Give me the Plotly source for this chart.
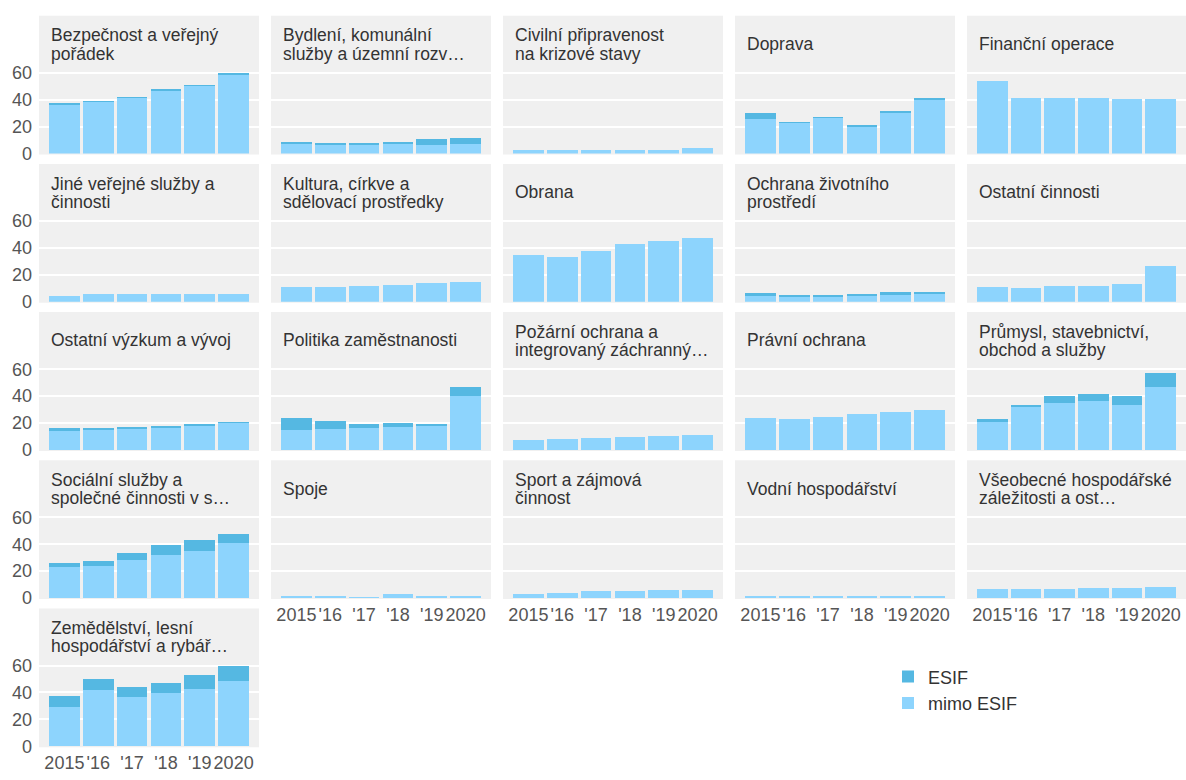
import plotly.graph_objects as go

years = ["2015", "2016", "2017", "2018", "2019", "2020"]
year_labels = ["2015", "'16", "'17", "'18", "'19", "2020"]

categories = [
    "Bezpečnost a veřejný<br>pořádek",
    "Bydlení, komunální<br>služby a územní rozv…",
    "Civilní připravenost<br>na krizové stavy",
    "Doprava",
    "Finanční operace",
    "Jiné veřejné služby a<br>činnosti",
    "Kultura, církve a<br>sdělovací prostředky",
    "Obrana",
    "Ochrana životního<br>prostředí",
    "Ostatní činnosti",
    "Ostatní výzkum a vývoj",
    "Politika zaměstnanosti",
    "Požární ochrana a<br>integrovaný záchranný…",
    "Právní ochrana",
    "Průmysl, stavebnictví,<br>obchod a služby",
    "Sociální služby a<br>společné činnosti v s…",
    "Spoje",
    "Sport a zájmová<br>činnost",
    "Vodní hospodářství",
    "Všeobecné hospodářské<br>záležitosti a ost…",
    "Zemědělství, lesní<br>hospodářství a rybář…",
]

mimo_esif = [
    [36.8, 38.8, 41.8, 47.2, 50.5, 59.2],
    [7.0, 6.3, 7.1, 7.3, 6.6, 6.9],
    [2.6, 2.8, 2.8, 2.8, 2.8, 4.2],
    [25.6, 22.9, 26.6, 20.5, 30.5, 40.5],
    [54.0, 41.7, 41.2, 41.7, 40.5, 40.7],
    [4.2, 5.5, 5.4, 5.4, 6.0, 6.0],
    [11.0, 11.2, 11.7, 12.7, 13.9, 14.6],
    [34.7, 33.0, 37.9, 42.7, 45.4, 47.1],
    [4.0, 4.2, 4.2, 4.5, 5.7, 6.0],
    [10.7, 10.4, 11.4, 11.7, 12.9, 26.9],
    [13.8, 15.4, 16.0, 16.5, 17.5, 20.0],
    [14.6, 15.3, 16.5, 17.0, 18.0, 40.2],
    [7.3, 7.8, 8.5, 9.8, 10.0, 11.0],
    [23.7, 22.9, 24.6, 26.6, 28.5, 30.0],
    [20.5, 32.5, 35.1, 36.6, 33.7, 46.8],
    [22.8, 23.7, 28.0, 32.3, 34.8, 40.9],
    [0.7, 0.7, 0.5, 2.7, 1.2, 1.0],
    [3.2, 3.4, 4.9, 5.4, 6.1, 6.1],
    [1.5, 1.0, 1.0, 1.0, 1.0, 1.0],
    [6.6, 6.9, 6.9, 7.4, 7.8, 8.3],
    [28.9, 41.5, 36.4, 39.3, 42.2, 48.8],
]

esif = [
    [0.7, 0.2, 0.2, 0.3, 0.5, 0.3],
    [2.0, 1.9, 0.7, 1.7, 3.9, 4.6],
    [0.0, 0.0, 0.0, 0.0, 0.0, 0.0],
    [4.9, 0.1, 0.2, 0.2, 0.6, 0.2],
    [0.0, 0.0, 0.0, 0.0, 0.0, 0.0],
    [0.0, 0.0, 0.0, 0.0, 0.0, 0.0],
    [0.0, 0.0, 0.0, 0.0, 0.0, 0.0],
    [0.0, 0.0, 0.0, 0.0, 0.0, 0.0],
    [2.5, 0.3, 0.3, 1.0, 1.3, 1.0],
    [0.0, 0.0, 0.0, 0.0, 0.0, 0.0],
    [2.7, 0.2, 0.3, 0.5, 1.5, 0.5],
    [9.1, 5.9, 3.0, 3.0, 1.2, 6.2],
    [0.0, 0.0, 0.0, 0.0, 0.0, 0.0],
    [0.0, 0.0, 0.0, 0.0, 0.0, 0.0],
    [2.4, 0.2, 4.9, 4.9, 6.3, 10.5],
    [3.2, 4.2, 5.6, 6.9, 8.1, 6.9],
    [0.0, 0.0, 0.0, 0.0, 0.0, 0.0],
    [0.0, 0.0, 0.0, 0.0, 0.0, 0.0],
    [0.0, 0.0, 0.0, 0.0, 0.0, 0.0],
    [0.0, 0.0, 0.0, 0.0, 0.0, 0.0],
    [8.7, 8.5, 7.3, 7.5, 10.9, 11.2],
]

y_ticks = [0, 20, 40, 60]

# ---- styling / layout constants ----
W, H = 1186, 780
NCOL = 5
COL_X0, COL_PITCH, COL_W = 39, 232, 220
ROW_TOP0, ROW_PITCH = 10, 151.25
PLOT_BOTTOM0 = 150.7
Y_MAX = 63
PX_PER_UNIT = 1.373
C_LIGHT = "#8DD4FD"
C_DARK = "#55B8E2"
PANEL_BG = "#F0F0F0"
FONT = "Liberation Sans, Arial, sans-serif"

n = len(categories)
last_row_for_col = {}
for i in range(n):
    r, c = divmod(i, NCOL)
    last_row_for_col[c] = max(last_row_for_col.get(c, -1), r)

fig = go.Figure()
shapes = []
annotations = []
layout_axes = {}

for i in range(n):
    r, c = divmod(i, NCOL)
    ax = "" if i == 0 else str(i + 1)
    x0 = COL_X0 + c * COL_PITCH
    x1 = min(x0 + COL_W, W)
    panel_top = ROW_TOP0 + r * ROW_PITCH
    plot_bottom = PLOT_BOTTOM0 + r * ROW_PITCH
    plot_top = plot_bottom - Y_MAX * PX_PER_UNIT

    fig.add_trace(go.Bar(
        x=years, y=mimo_esif[i], name="mimo ESIF",
        marker=dict(color=C_LIGHT, line=dict(width=0)),
        xaxis="x" + ax, yaxis="y" + ax,
        legendgroup="mimo", showlegend=(i == 0),
    ))
    fig.add_trace(go.Bar(
        x=years, y=esif[i], name="ESIF",
        marker=dict(color=C_DARK, line=dict(width=0)),
        xaxis="x" + ax, yaxis="y" + ax,
        legendgroup="esif", showlegend=(i == 0),
    ))

    show_x = (r == last_row_for_col[c])
    layout_axes["xaxis" + ax] = dict(
        domain=[x0 / W, x1 / W], anchor="y" + ax,
        type="category", categoryorder="array", categoryarray=years,
        range=[-0.75, 5.75], showgrid=False, zeroline=False,
        showline=False, ticks="", showticklabels=show_x,
        tickvals=years, ticktext=year_labels, tickangle=0,
        tickfont=dict(size=18, color="#555555", family=FONT),
        ticklabelstandoff=4, fixedrange=True,
    )
    layout_axes["yaxis" + ax] = dict(
        domain=[1 - plot_bottom / H, 1 - plot_top / H], anchor="x" + ax,
        range=[0, Y_MAX], tickvals=y_ticks, showgrid=True,
        gridcolor="white", gridwidth=1.5, zeroline=False,
        showline=False, ticks="", showticklabels=(c == 0),
        tickfont=dict(size=18, color="#555555", family=FONT),
        ticklabelstandoff=6, fixedrange=True,
    )

    shapes.append(dict(
        type="rect", xref="paper", yref="paper",
        x0=x0 / W, x1=x1 / W,
        y0=1 - (plot_bottom + 1) / H, y1=1 - panel_top / H,
        fillcolor=PANEL_BG, line=dict(width=0), layer="below",
    ))

    lines = categories[i].split("<br>")
    if len(lines) == 1:
        centers = [panel_top + 29]
    else:
        centers = [panel_top + 20, panel_top + 38.5]
    for txt, yc in zip(lines, centers):
        annotations.append(dict(
            text=txt, xref="paper", yref="paper",
            x=(x0 + 10) / W, y=1 - yc / H,
            xanchor="left", yanchor="middle", showarrow=False,
            font=dict(size=17.5, color="#333333", family=FONT),
        ))

fig.update_layout(
    width=W, height=H, autosize=False,
    margin=dict(l=0, r=0, t=0, b=0),
    paper_bgcolor="white", plot_bgcolor="rgba(0,0,0,0)",
    barmode="stack", bargap=0.09,
    shapes=shapes, annotations=annotations,
    font=dict(family=FONT, size=18, color="#333333"),
    legend=dict(
        x=888 / W, y=1 - 666 / H, xanchor="left", yanchor="top",
        traceorder="reversed", font=dict(size=18, color="#333333", family=FONT),
        bgcolor="rgba(0,0,0,0)", borderwidth=0, tracegroupgap=0,
    ),
    **layout_axes,
)

fig.write_html(
    "out.html",
    post_script="document.body.style.margin='0';document.body.style.overflow='hidden';",
    config={"displayModeBar": False},
)
